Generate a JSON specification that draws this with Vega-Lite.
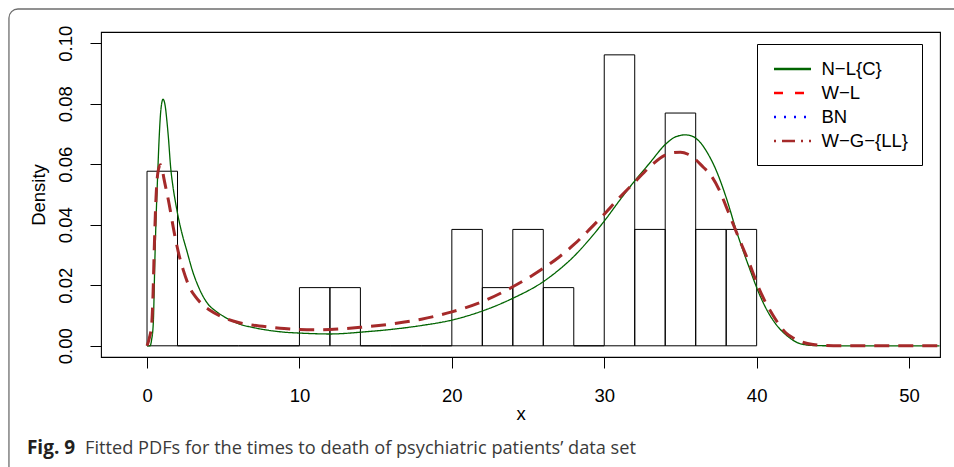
{
  "$schema": "https://vega.github.io/schema/vega-lite/v6.json",
  "width": 839,
  "height": 325,
  "autosize": {"type": "none"},
  "padding": {"left": 101, "top": 32, "right": 14, "bottom": 110},
  "background": "white",
  "config": {
    "view": {"stroke": "black", "strokeWidth": 1.1},
    "font": "Liberation Sans",
    "axis": {"labelFont": "Liberation Sans", "titleFont": "Liberation Sans", "labelColor": "black", "titleColor": "black", "tickColor": "black", "domain": false, "grid": false, "labelFontSize": 18.5, "titleFontSize": 18.5, "titleFontWeight": "normal", "tickSize": 11, "tickWidth": 1}
  },
  "datasets": {
    "hist": [
      {"lo": 0, "hi": 2, "density": 0.05769},
      {"lo": 2, "hi": 4, "density": 0},
      {"lo": 4, "hi": 6, "density": 0},
      {"lo": 6, "hi": 8, "density": 0},
      {"lo": 8, "hi": 10, "density": 0},
      {"lo": 10, "hi": 12, "density": 0.01923},
      {"lo": 12, "hi": 14, "density": 0.01923},
      {"lo": 14, "hi": 16, "density": 0},
      {"lo": 16, "hi": 18, "density": 0},
      {"lo": 18, "hi": 20, "density": 0},
      {"lo": 20, "hi": 22, "density": 0.03846},
      {"lo": 22, "hi": 24, "density": 0.01923},
      {"lo": 24, "hi": 26, "density": 0.03846},
      {"lo": 26, "hi": 28, "density": 0.01923},
      {"lo": 28, "hi": 30, "density": 0},
      {"lo": 30, "hi": 32, "density": 0.09615},
      {"lo": 32, "hi": 34, "density": 0.03846},
      {"lo": 34, "hi": 36, "density": 0.07692},
      {"lo": 36, "hi": 38, "density": 0.03846},
      {"lo": 38, "hi": 40, "density": 0.03846}
    ],
    "curves": [
      {"dist": "N−L{C}", "x": 0, "density": 0}, {"dist": "N−L{C}", "x": 0.2, "density": 0}, {"dist": "N−L{C}", "x": 0.3, "density": 0.002},
      {"dist": "N−L{C}", "x": 0.41, "density": 0.0074}, {"dist": "N−L{C}", "x": 0.52, "density": 0.0294}, {"dist": "N−L{C}", "x": 0.6, "density": 0.043},
      {"dist": "N−L{C}", "x": 0.68, "density": 0.054}, {"dist": "N−L{C}", "x": 0.79, "density": 0.068}, {"dist": "N−L{C}", "x": 0.9, "density": 0.0775},
      {"dist": "N−L{C}", "x": 1.05, "density": 0.0815}, {"dist": "N−L{C}", "x": 1.2, "density": 0.079}, {"dist": "N−L{C}", "x": 1.3, "density": 0.0745},
      {"dist": "N−L{C}", "x": 1.4, "density": 0.069}, {"dist": "N−L{C}", "x": 1.55, "density": 0.059}, {"dist": "N−L{C}", "x": 1.72, "density": 0.052},
      {"dist": "N−L{C}", "x": 1.9, "density": 0.0465}, {"dist": "N−L{C}", "x": 2.05, "density": 0.0425}, {"dist": "N−L{C}", "x": 2.3, "density": 0.037},
      {"dist": "N−L{C}", "x": 2.6, "density": 0.0316}, {"dist": "N−L{C}", "x": 3.0, "density": 0.0245}, {"dist": "N−L{C}", "x": 3.4, "density": 0.0192},
      {"dist": "N−L{C}", "x": 4.0, "density": 0.0138}, {"dist": "N−L{C}", "x": 4.5, "density": 0.0115}, {"dist": "N−L{C}", "x": 5, "density": 0.0098},
      {"dist": "N−L{C}", "x": 6, "density": 0.0073}, {"dist": "N−L{C}", "x": 7, "density": 0.006}, {"dist": "N−L{C}", "x": 8, "density": 0.0051},
      {"dist": "N−L{C}", "x": 9, "density": 0.0045}, {"dist": "N−L{C}", "x": 10, "density": 0.0042}, {"dist": "N−L{C}", "x": 11, "density": 0.004},
      {"dist": "N−L{C}", "x": 12, "density": 0.0039}, {"dist": "N−L{C}", "x": 13, "density": 0.0041}, {"dist": "N−L{C}", "x": 14, "density": 0.0045},
      {"dist": "N−L{C}", "x": 16, "density": 0.0054}, {"dist": "N−L{C}", "x": 18, "density": 0.0067}, {"dist": "N−L{C}", "x": 20, "density": 0.0085},
      {"dist": "N−L{C}", "x": 22, "density": 0.0115}, {"dist": "N−L{C}", "x": 24, "density": 0.0157}, {"dist": "N−L{C}", "x": 26, "density": 0.0212},
      {"dist": "N−L{C}", "x": 27, "density": 0.025}, {"dist": "N−L{C}", "x": 28, "density": 0.0295}, {"dist": "N−L{C}", "x": 29, "density": 0.035},
      {"dist": "N−L{C}", "x": 30, "density": 0.0412}, {"dist": "N−L{C}", "x": 31, "density": 0.048}, {"dist": "N−L{C}", "x": 32, "density": 0.0545},
      {"dist": "N−L{C}", "x": 33, "density": 0.0605}, {"dist": "N−L{C}", "x": 34, "density": 0.0665}, {"dist": "N−L{C}", "x": 34.7, "density": 0.0691},
      {"dist": "N−L{C}", "x": 35.3, "density": 0.0697}, {"dist": "N−L{C}", "x": 35.8, "density": 0.0692}, {"dist": "N−L{C}", "x": 36.3, "density": 0.0672},
      {"dist": "N−L{C}", "x": 36.8, "density": 0.0635}, {"dist": "N−L{C}", "x": 37.3, "density": 0.0585}, {"dist": "N−L{C}", "x": 38, "density": 0.049},
      {"dist": "N−L{C}", "x": 38.7, "density": 0.0375}, {"dist": "N−L{C}", "x": 39.5, "density": 0.026}, {"dist": "N−L{C}", "x": 40.2, "density": 0.0168},
      {"dist": "N−L{C}", "x": 40.6, "density": 0.0125}, {"dist": "N−L{C}", "x": 41.07, "density": 0.0085}, {"dist": "N−L{C}", "x": 41.5, "density": 0.0057},
      {"dist": "N−L{C}", "x": 41.95, "density": 0.0035}, {"dist": "N−L{C}", "x": 42.4, "density": 0.0018}, {"dist": "N−L{C}", "x": 42.8, "density": 0.0008},
      {"dist": "N−L{C}", "x": 43.7, "density": 0.0001}, {"dist": "N−L{C}", "x": 45, "density": 0}, {"dist": "N−L{C}", "x": 52, "density": 0},
      {"dist": "W−G−{LL}", "x": 0, "density": 0}, {"dist": "W−G−{LL}", "x": 0.15, "density": 0.0025}, {"dist": "W−G−{LL}", "x": 0.31, "density": 0.0074},
      {"dist": "W−G−{LL}", "x": 0.4, "density": 0.018}, {"dist": "W−G−{LL}", "x": 0.46, "density": 0.0294}, {"dist": "W−G−{LL}", "x": 0.59, "density": 0.049},
      {"dist": "W−G−{LL}", "x": 0.72, "density": 0.0575}, {"dist": "W−G−{LL}", "x": 0.88, "density": 0.0598}, {"dist": "W−G−{LL}", "x": 0.98, "density": 0.0588},
      {"dist": "W−G−{LL}", "x": 1.1, "density": 0.0555}, {"dist": "W−G−{LL}", "x": 1.4, "density": 0.0482}, {"dist": "W−G−{LL}", "x": 1.84, "density": 0.036},
      {"dist": "W−G−{LL}", "x": 2.1, "density": 0.03}, {"dist": "W−G−{LL}", "x": 2.38, "density": 0.025}, {"dist": "W−G−{LL}", "x": 2.82, "density": 0.019},
      {"dist": "W−G−{LL}", "x": 3.15, "density": 0.0164}, {"dist": "W−G−{LL}", "x": 3.6, "density": 0.0138}, {"dist": "W−G−{LL}", "x": 4.1, "density": 0.0118},
      {"dist": "W−G−{LL}", "x": 5, "density": 0.0094}, {"dist": "W−G−{LL}", "x": 6, "density": 0.0077}, {"dist": "W−G−{LL}", "x": 7, "density": 0.0068},
      {"dist": "W−G−{LL}", "x": 8, "density": 0.0062}, {"dist": "W−G−{LL}", "x": 9, "density": 0.0057}, {"dist": "W−G−{LL}", "x": 10, "density": 0.0054},
      {"dist": "W−G−{LL}", "x": 11, "density": 0.0053}, {"dist": "W−G−{LL}", "x": 12, "density": 0.0054}, {"dist": "W−G−{LL}", "x": 13, "density": 0.0057},
      {"dist": "W−G−{LL}", "x": 14, "density": 0.0061}, {"dist": "W−G−{LL}", "x": 16, "density": 0.0072}, {"dist": "W−G−{LL}", "x": 18, "density": 0.0088},
      {"dist": "W−G−{LL}", "x": 20, "density": 0.0112}, {"dist": "W−G−{LL}", "x": 22, "density": 0.0146}, {"dist": "W−G−{LL}", "x": 24, "density": 0.0195},
      {"dist": "W−G−{LL}", "x": 26, "density": 0.0256}, {"dist": "W−G−{LL}", "x": 27, "density": 0.0292}, {"dist": "W−G−{LL}", "x": 28, "density": 0.0334},
      {"dist": "W−G−{LL}", "x": 29, "density": 0.0383}, {"dist": "W−G−{LL}", "x": 30, "density": 0.0435}, {"dist": "W−G−{LL}", "x": 31, "density": 0.049},
      {"dist": "W−G−{LL}", "x": 32, "density": 0.0541}, {"dist": "W−G−{LL}", "x": 33, "density": 0.0592}, {"dist": "W−G−{LL}", "x": 34, "density": 0.063},
      {"dist": "W−G−{LL}", "x": 34.5, "density": 0.0638}, {"dist": "W−G−{LL}", "x": 35, "density": 0.064}, {"dist": "W−G−{LL}", "x": 35.5, "density": 0.0633},
      {"dist": "W−G−{LL}", "x": 36, "density": 0.0615}, {"dist": "W−G−{LL}", "x": 36.5, "density": 0.059}, {"dist": "W−G−{LL}", "x": 36.9, "density": 0.057},
      {"dist": "W−G−{LL}", "x": 37.6, "density": 0.0509}, {"dist": "W−G−{LL}", "x": 38, "density": 0.046}, {"dist": "W−G−{LL}", "x": 38.7, "density": 0.0372},
      {"dist": "W−G−{LL}", "x": 39.5, "density": 0.0275}, {"dist": "W−G−{LL}", "x": 40.2, "density": 0.0184}, {"dist": "W−G−{LL}", "x": 40.6, "density": 0.0142},
      {"dist": "W−G−{LL}", "x": 41.07, "density": 0.0101}, {"dist": "W−G−{LL}", "x": 41.5, "density": 0.0068}, {"dist": "W−G−{LL}", "x": 41.95, "density": 0.0041},
      {"dist": "W−G−{LL}", "x": 42.4, "density": 0.0026}, {"dist": "W−G−{LL}", "x": 42.8, "density": 0.0016}, {"dist": "W−G−{LL}", "x": 43.7, "density": 0.0004},
      {"dist": "W−G−{LL}", "x": 44.5, "density": 0.0001}, {"dist": "W−G−{LL}", "x": 45.5, "density": 0}, {"dist": "W−G−{LL}", "x": 52, "density": 0}
    ]
  },
  "layer": [
    {
      "data": {"values": [{"k": 1}]},
      "mark": {"type": "rect", "filled": false, "stroke": "#6e6e6e", "strokeWidth": 1.3, "cornerRadius": 9, "clip": false},
      "encoding": {
        "x": {"datum": -9.06, "type": "quantitative", "title": "x", "scale": {"domain": [-3.02, 52.03], "nice": false, "zero": false},
              "axis": {"values": [0, 10, 20, 30, 40, 50], "labelPadding": 18, "titlePadding": 0, "labelFlush": false}},
        "x2": {"datum": 70},
        "y": {"datum": 0.1113, "type": "quantitative", "title": "Density", "scale": {"domain": [-0.0037, 0.1037], "nice": false, "zero": false},
              "axis": {"values": [0, 0.02, 0.04, 0.06, 0.08, 0.1], "format": ".2f", "labelAngle": 270, "labelAlign": "center", "labelBaseline": "bottom", "labelPadding": 15, "titlePadding": 8, "labelFlush": false}},
        "y2": {"datum": -0.06}
      }
    },
    {
      "data": {"name": "hist"},
      "mark": {"type": "rect", "filled": false, "stroke": "black", "strokeWidth": 1},
      "encoding": {
        "x": {"field": "lo", "type": "quantitative", "title": "x"},
        "x2": {"field": "hi"},
        "y": {"field": "density", "type": "quantitative", "title": "Density"},
        "y2": {"datum": 0}
      }
    },
    {
      "data": {"name": "curves"},
      "transform": [{"filter": "datum.dist === 'N−L{C}'"}],
      "mark": {"type": "line", "strokeWidth": 1.3, "interpolate": "monotone"},
      "encoding": {
        "x": {"field": "x", "type": "quantitative", "title": "x"},
        "y": {"field": "density", "type": "quantitative", "title": "Density"},
        "color": {"field": "dist", "type": "nominal",
          "scale": {"domain": ["N−L{C}", "W−L", "BN", "W−G−{LL}"], "range": ["#006400", "#ff0000", "#0000ff", "#a52a2a"]},
          "legend": {"orient": "none", "legendX": 656, "legendY": 12, "title": null, "strokeColor": "black", "fillColor": "white", "padding": 14,
                     "symbolType": "M-2,0H2", "symbolSize": 342, "symbolStrokeWidth": 2.6, "symbolOffset": 10.5, "labelFont": "Liberation Sans", "labelFontSize": 18.5, "labelColor": "black", "labelOffset": 18, "rowPadding": 3}},
        "strokeDash": {"field": "dist", "type": "nominal",
          "scale": {"domain": ["N−L{C}", "W−L", "BN", "W−G−{LL}"], "range": [[1, 0], [9, 12], [2, 8], [2, 6, 13, 6]]}}
      }
    },
    {
      "data": {"name": "curves"},
      "transform": [{"filter": "datum.dist === 'W−G−{LL}'"}],
      "mark": {"type": "line", "strokeWidth": 3, "strokeDash": [15, 9], "interpolate": "monotone", "color": "#a52a2a"},
      "encoding": {
        "x": {"field": "x", "type": "quantitative", "title": "x"},
        "y": {"field": "density", "type": "quantitative", "title": "Density"}
      }
    },
    {
      "data": {"values": [{"k": 1}]},
      "mark": {"type": "text", "text": "Fig. 9", "font": "Open Sans", "fontWeight": "bold", "fontSize": 19, "color": "#231f20", "align": "left", "baseline": "alphabetic", "clip": false},
      "encoding": {
        "x": {"datum": -7.88, "type": "quantitative"},
        "y": {"datum": -0.0358, "type": "quantitative"}
      }
    },
    {
      "data": {"values": [{"k": 1}]},
      "mark": {"type": "text", "text": "Fitted PDFs for the times to death of psychiatric patients’ data set", "font": "Open Sans", "fontSize": 18.2, "color": "#3a3a3a", "align": "left", "baseline": "alphabetic", "clip": false},
      "encoding": {
        "x": {"datum": -4.07, "type": "quantitative"},
        "y": {"datum": -0.0358, "type": "quantitative"}
      }
    }
  ]
}
